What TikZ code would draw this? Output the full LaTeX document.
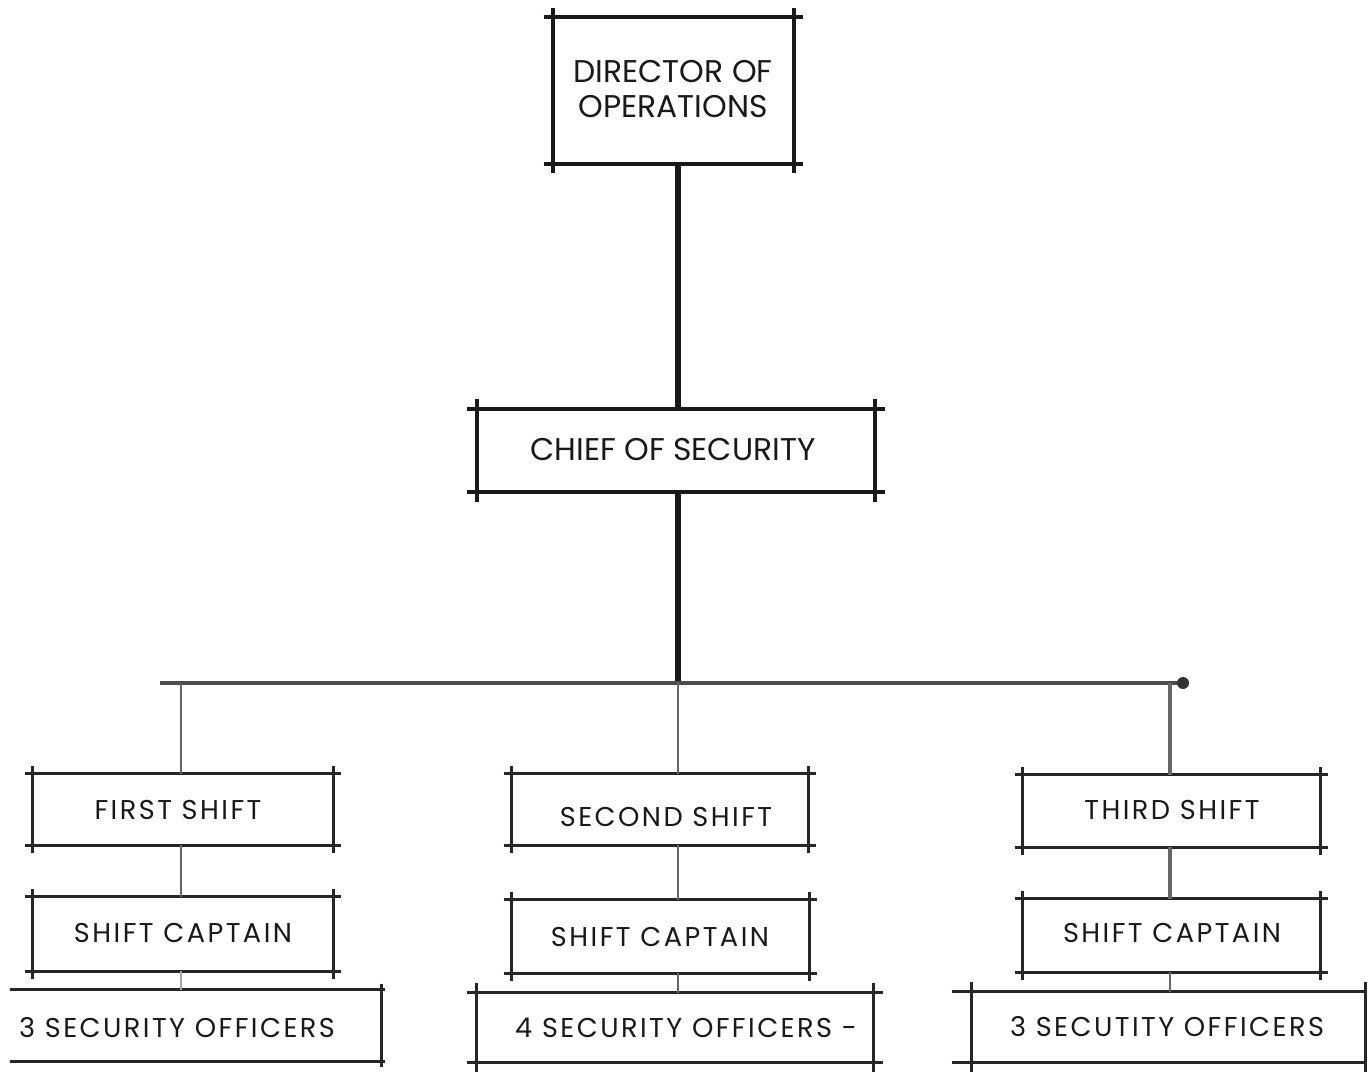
\documentclass[tikz,border=0pt]{standalone}
\usepackage{fontspec}
\setmainfont{Poppins}
\newfontfamily\widefont[LetterSpace=9]{Poppins}
\usetikzlibrary{fit}
\tikzset{
  heavy/.style={line width=2pt, black!90},
  light/.style={line width=1.4pt, black!85},
  boxnode/.style={inner sep=0pt, draw=none},
  lbl/.style={inner sep=0pt, font=\fontsize{15.7}{17.5}\selectfont, align=center, black!90},
  lbls/.style={inner sep=0pt, font=\widefont\fontsize{13.6}{15}\selectfont, align=center, black!90},
  trunk/.style={line width=2.6pt, black!90},
  bus/.style={line width=2.4pt, black!70},
  branch/.style={line width=1.3pt, black!60},
}
% \crossframe{name}{style}{extension}
\newcommand\crossframe[3]{%
  \draw[#2] ([xshift=-#3]#1.north west) -- ([xshift=#3]#1.north east);
  \draw[#2] ([xshift=-#3]#1.south west) -- ([xshift=#3]#1.south east);
  \draw[#2] ([yshift=#3]#1.north west) -- ([yshift=-#3]#1.south west);
  \draw[#2] ([yshift=#3]#1.north east) -- ([yshift=-#3]#1.south east);
}
\begin{document}
\begin{tikzpicture}[x=0.5pt,y=-0.5pt]
\useasboundingbox[fill=white] (0,0) rectangle (1368,1076);

% boxes
\node[boxnode, fit={(553,17) (794,164)}] (D) {};
\node[boxnode, fit={(477,409) (875,492)}] (C) {};
\node[boxnode, fit={(33,774) (333,845)}] (S1) {};
\node[boxnode, fit={(512,774) (808,845)}] (S2) {};
\node[boxnode, fit={(1023,775) (1320,847)}] (S3) {};
\node[boxnode, fit={(33,897) (333,971)}] (K1) {};
\node[boxnode, fit={(512,900) (809,973)}] (K2) {};
\node[boxnode, fit={(1023,899) (1320,972)}] (K3) {};
\node[boxnode, fit={(10,990) (381,1061)}] (O1) {};
\node[boxnode, fit={(477,993) (873,1062)}] (O2) {};
\node[boxnode, fit={(972,992) (1365,1062)}] (O3) {};

\crossframe{D}{heavy}{4.5pt}
\crossframe{C}{heavy}{5pt}
\crossframe{S1}{light}{4pt}
\crossframe{S2}{light}{4pt}
\crossframe{S3}{light}{4pt}
\crossframe{K1}{light}{4pt}
\crossframe{K2}{light}{4pt}
\crossframe{K3}{light}{4pt}
% first officers box: no left side visible
\draw[light] (O1.north west) -- ([xshift=2pt]O1.north east);
\draw[light] (O1.south west) -- ([xshift=2pt]O1.south east);
\draw[light] ([yshift=3pt]O1.north east) -- ([yshift=-3pt]O1.south east);
\crossframe{O2}{light}{5pt}
\draw[light] ([xshift=-10pt]O3.north west) -- (O3.north east);
\draw[light] ([xshift=-10pt]O3.south west) -- (O3.south east);
\draw[light] ([yshift=5pt]O3.north west) -- ([yshift=-5pt]O3.south west);
\draw[light] ([yshift=5pt]O3.north east) -- ([yshift=-5pt]O3.south east);

% texts
\node[lbl] (tD) at (673,89) {DIRECTOR OF\\OPERATIONS};
\node[lbl] (tC) at (673,450) {CHIEF OF SECURITY};
\node[lbls] (tS1) at (178,810) {FIRST SHIFT};
\node[lbls] (tS2) at (666,817) {SECOND SHIFT};
\node[lbls] (tS3) at (1172,810) {THIRD SHIFT};
\node[lbls] (tK1) at (183,933) {SHIFT CAPTAIN};
\node[lbls] (tK2) at (660,937) {SHIFT CAPTAIN};
\node[lbls] (tK3) at (1172,933) {SHIFT CAPTAIN};
\node[lbls] (tO1) at (177,1028) {3 SECURITY OFFICERS};
\node[lbls] (tO2) at (686,1028) {4 SECURITY OFFICERS -};
\node[lbls] (tO3) at (1167,1027) {3 SECUTITY OFFICERS};

% connectors
\coordinate (busL) at (160,683);
\coordinate (busR) at (1183,683);
\coordinate (busM) at (678,683);
\coordinate (b1) at (181,683);
\coordinate (b3) at (1170,683);

\draw[trunk] (D.south -| busM) -- (C.north -| busM);
\draw[trunk] (C.south -| busM) -- (busM);
\draw[bus] (busL) -- (busR);
\fill[black!80] (busR) circle (3pt);
\draw[branch] (b1) -- (S1.north -| b1);
\draw[branch] (busM) -- (S2.north -| busM);
\draw[branch, line width=1.8pt] (b3) -- (S3.north -| b3);
\draw[branch] (S1.south -| b1) -- (K1.north -| b1);
\draw[branch] (S2.south -| busM) -- (K2.north -| busM);
\draw[branch, line width=1.8pt] (S3.south -| b3) -- (K3.north -| b3);
\draw[branch, black!35] (K1.south -| b1) -- (O1.north -| b1);
\draw[branch] (K2.south -| busM) -- (O2.north -| busM);
\draw[branch] (K3.south -| b3) -- (O3.north -| b3);
\end{tikzpicture}
\end{document}
